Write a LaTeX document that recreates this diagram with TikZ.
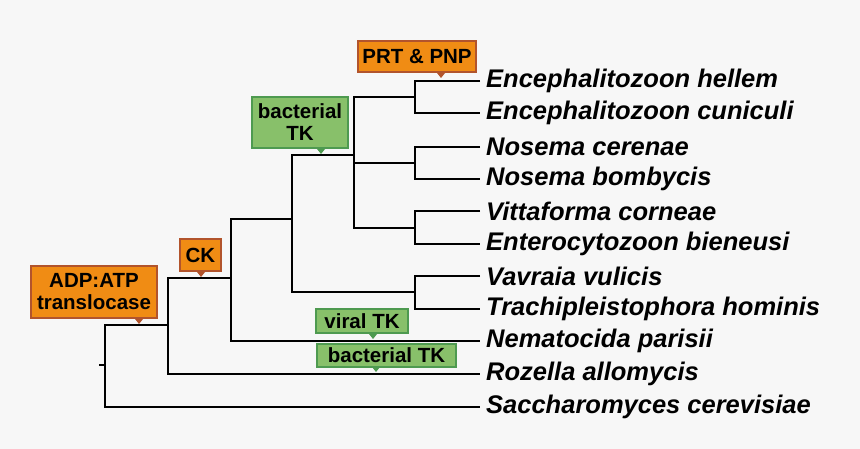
\documentclass[tikz,border=0pt]{standalone}
\usepackage{fontspec}
\setmainfont{Liberation Sans}
\usetikzlibrary{positioning, calc}
\definecolor{myorange}{RGB}{240,140,20}
\definecolor{myorangeb}{RGB}{178,84,44}
\definecolor{mygreen}{RGB}{136,192,106}
\definecolor{mygreenb}{RGB}{78,154,80}
\definecolor{mybg}{RGB}{247,247,247}
\tikzset{
  leaf/.style={anchor=west, inner xsep=6, inner ysep=0, font=\fontsize{25.5}{26}\selectfont\bfseries\itshape},
  tag/.style={draw, line width=1.6, inner sep=0, align=center,
    font=\fontsize{20.5}{22}\selectfont\bfseries},
  otag/.style={tag, fill=myorange, draw=myorangeb},
  gtag/.style={tag, fill=mygreen, draw=mygreenb},
  branch/.style={line width=1.6, line join=miter}
}
\newcommand{\tip}[3]{\fill[#1] (#2,#3) -- ++(-4,-5) -- ++(8,0) -- cycle;}

\begin{document}
\begin{tikzpicture}[x=1pt,y=-1pt]
\fill[mybg] (0,0) rectangle (860,449);
\useasboundingbox (0,0) rectangle (860,449);

% leaves
\node [leaf] (ench1) at (480,81) {Encephalitozoon hellem};
\node [leaf] (ench2) at (480,113) {Encephalitozoon cuniculi};
\node [leaf] (nos1) at (480,147) {Nosema cerenae};
\node [leaf] (nos2) at (480,179) {Nosema bombycis};
\node [leaf] (vit) at (480,211) {Vittaforma corneae};
\node [leaf] (ent) at (480,244) {Enterocytozoon bieneusi};
\node [leaf] (vav) at (480,276) {Vavraia vulicis};
\node [leaf] (tra) at (480,309) {Trachipleistophora hominis};
\node [leaf] (nem) at (480,341) {Nematocida parisii};
\node [leaf] (roz) at (480,374) {Rozella allomycis};
\node [leaf] (sac) at (480,407) {Saccharomyces cerevisiae};

% internal nodes
\coordinate (e) at (415,97);
\coordinate (n) at (415,163);
\coordinate (v) at (415,228);
\coordinate (t) at (415,292);
\coordinate (m) at (354,155);
\coordinate (g) at (292,219);
\coordinate (h) at (231,278);
\coordinate (k) at (168,325);
\coordinate (r) at (105,365);

\draw[branch] (ench1.west) -| (e) |- (ench2.west);
\draw[branch] (nos1.west) -| (n) |- (nos2.west);
\draw[branch] (vit.west) -| (v) |- (ent.west);
\draw[branch] (vav.west) -| (t) |- (tra.west);
\draw[branch] (e) -| (m) |- (v);
\draw[branch] (n) -- (n -| m);
\draw[branch] (m) -| (g) |- (t);
\draw[branch] (g) -| (h) |- (nem.west);
\draw[branch] (h) -| (k) |- (roz.west);
\draw[branch] (k) -| (r) |- (sac.west);
\draw[branch] (r) -- ++(-6,0);

% gene gains
\node [otag, minimum width=118, minimum height=31] (prt) at (417,56.5) {PRT \& PNP};
\tip{myorangeb}{441}{78}
\node [gtag, minimum width=96, minimum height=51] (btk1) at (300,122.5) {bacterial\\TK};
\tip{mygreenb}{321}{154}
\node [otag, minimum width=41, minimum height=32] (ck) at (200.5,255) {CK};
\tip{myorangeb}{201}{277}
\node [otag, minimum width=126, minimum height=52] (adp) at (94,292) {ADP:ATP\\translocase};
\tip{myorangeb}{139}{324}
\node [gtag, minimum width=92, minimum height=24] (vtk) at (362,321) {viral TK};
\tip{mygreenb}{373}{339}
\node [gtag, minimum width=139, minimum height=23] (btk2) at (386.5,355.5) {bacterial TK};
\tip{mygreenb}{376}{372}
\end{tikzpicture}
\end{document}
